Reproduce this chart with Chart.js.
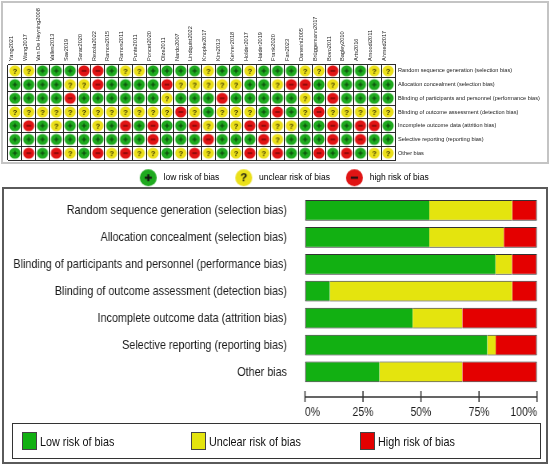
<!DOCTYPE html>
<html>
<head>
<meta charset="utf-8">
<script src="https://cdn.jsdelivr.net/npm/chart.js@4.4.1/dist/chart.umd.min.js"></script>
<style>
  html, body { margin: 0; padding: 0; background: #fff; }
  #page { position: relative; width: 550px; height: 466px; overflow: hidden; }
  .frame { position: absolute; box-sizing: border-box; }
  #topFrame { left: 1px; top: 1px; width: 548px; height: 163px; border: 2px solid #c4c4c4; }
  #bottomFrame { left: 2px; top: 187px; width: 546px; height: 277px; border: 2px solid #5a5a5a; }
  canvas { position: absolute; left: 0; }
  #summary { top: 0; }
  #graph { top: 188px; transform-origin: 0 0; }
  #graphLegend {
    position: absolute; left: 12px; top: 423px; width: 529px; height: 36px;
    box-sizing: border-box; border: 1.5px solid #333;
    font: 13.5px 'Liberation Sans', Arial, sans-serif; color: #111;
  }
  #graphLegend .item { position: absolute; top: 0; height: 100%; display: flex; align-items: center; white-space: nowrap; }
  #graphLegend .swatch { width: 15px; height: 18px; box-sizing: border-box; border: 1px solid #444; margin-right: 3px; }
  #graphLegend .txt { display: inline-block; transform: scaleX(0.8); transform-origin: 0 50%; }
</style>
</head>
<body>
<div id="page">
  <div id="topFrame" class="frame"></div>
  <div id="bottomFrame" class="frame"></div>
  <canvas id="summary" width="550" height="192"></canvas>
  <canvas id="graph" width="688" height="278"></canvas>
  <div id="graphLegend"></div>
</div>
<script>
const FONT = "'Liberation Sans', Arial, sans-serif";

// studies, left to right
const studies = ['Yang2021', 'Wang2017', 'Van De Heyning2008', 'Valles2013', 'Sav2019', 'Sarac2020',
  'Rezola2022', 'Ramos2015', 'Ramos2011', 'Punte2011', 'Poncet2020', 'Olze2011', 'Nardo2007',
  'Lindquist2022', 'Knopke2017', 'Kim2013', 'Kehrer2018', 'Holder2017', 'Haider2019', 'Frank2020',
  'Fan2023', 'Daneshi2005', 'Brüggemann2017', 'Bovo2011', 'Bagley2010', 'Arts2016', 'Amoodi2011', 'Ahmed2017'];

const domains = ['Random sequence generation (selection bias)',
  'Allocation concealment (selection bias)',
  'Blinding of participants and personnel (performance bias)',
  'Blinding of outcome assessment (detection bias)',
  'Incomplete outcome data (attrition bias)',
  'Selective reporting (reporting bias)',
  'Other bias'];

// one string per domain, one char per study:  + low, ? unclear, - high
const judgements = [
  '??+++--+??++++?++?+++??-++??',
  '++++??-++++-?????++?--+?++++',
  '++++-++++++?+++-+++++?+-++++',
  '????????????-?+???+-+?-?????',
  '+-+?++?+-+-++-?+?--??++-+--+',
  '++++++++++-+++-+++-?+++-+-++',
  '+-+-?+-?-??+?-?+?-?-++-+-+??'
];
const levelCodes = ['+', '?', '-'];

// risk of bias graph, percent of studies
const lowPct = [53.6, 53.6, 82.1, 10.7, 46.4, 78.6, 32.1];
const unclearPct = [35.7, 32.1, 7.1, 78.6, 21.4, 3.6, 35.7];
const highPct = [10.7, 14.3, 10.8, 10.7, 32.2, 17.8, 32.2];
const pctTicks = [0, 25, 50, 75, 100];

const summaryLabels = ['low risk of bias', 'unclear risk of bias', 'high risk of bias'];
const graphLabels = ['Low risk of bias', 'Unclear risk of bias', 'High risk of bias'];

const dotColors = ['#1faa1f', '#ebe01a', '#e01414'];
const dotInks = ['#0b3f0b', '#3a3300', '#4a0000'];
const barColors = ['#12b012', '#e4e40e', '#e40000'];

Chart.defaults.font.family = FONT;
Chart.defaults.color = '#1a1a1a';

// the graph canvas is drawn wide and squeezed back to 550px, giving the narrow lettering
const graphCanvas = document.getElementById('graph');
const SX = 550 / graphCanvas.width;
graphCanvas.style.transform = 'scaleX(' + SX + ')';

// little round judgement badges, used as point styles
function badge(fill, glyph, r, ink, lw) {
  const s = Math.ceil(2 * r + 2);
  const c = document.createElement('canvas');
  c.width = c.height = s;
  const g = c.getContext('2d');
  const m = s / 2;
  g.beginPath();
  g.arc(m, m, r, 0, Math.PI * 2);
  g.fillStyle = fill;
  g.fill();
  g.strokeStyle = ink;
  g.fillStyle = ink;
  g.lineWidth = lw;
  const k = r * 0.42;
  if (glyph === '?') {
    g.font = 'bold ' + (r * 1.35) + 'px Arial, sans-serif';
    g.textAlign = 'center';
    g.textBaseline = 'middle';
    g.fillText('?', m, m + r * 0.08);
  } else {
    g.beginPath();
    g.moveTo(m - k, m); g.lineTo(m + k, m);
    if (glyph === '+') { g.moveTo(m, m - k); g.lineTo(m, m + k); }
    g.stroke();
  }
  return c;
}
const gridBadges = levelCodes.map((code, k) => badge(dotColors[k], code, 5.6, dotInks[k], 1));
const legendBadges = levelCodes.map((code, k) => badge(dotColors[k], code, 8.5, '#111', 2));

const summaryDatasets = levelCodes.map((code, k) => ({
  label: summaryLabels[k],
  data: judgements.flatMap((row, r) => row.split('')
    .map((j, c) => j === code ? { x: studies[c], y: domains[r] } : null)
    .filter(Boolean)),
  pointStyle: gridBadges[k],
  pointRadius: 5,
  pointHoverRadius: 5,
  backgroundColor: dotColors[k]
}));

new Chart(document.getElementById('summary'), {
  type: 'scatter',
  data: { datasets: summaryDatasets },
  options: {
    responsive: false,
    animation: false,
    // the negative right padding only nudges the centred legend a little to the right
    layout: { padding: { left: 8, right: -8 } },
    plugins: {
      tooltip: { enabled: false },
      legend: {
        position: 'bottom',
        labels: {
          usePointStyle: true,
          pointStyleWidth: 22,
          padding: 13.5,
          font: { size: 8.5 },
          color: '#111',
          generateLabels: chart => chart.data.datasets.map((ds, i) => ({
            text: ds.label,
            pointStyle: legendBadges[i],
            fillStyle: dotColors[i],
            strokeStyle: dotColors[i],
            lineWidth: 0,
            hidden: false,
            datasetIndex: i
          }))
        }
      }
    },
    scales: {
      x: {
        type: 'category',
        labels: studies,
        position: 'top',
        offset: true,
        grid: { offset: true, color: '#2a2a2a', lineWidth: 1, drawTicks: false },
        border: { color: '#2a2a2a', width: 1 },
        ticks: { autoSkip: false, minRotation: 90, maxRotation: 90, padding: 3, labelOffset: 3, font: { size: 5.6 } },
        afterFit: s => { s.height = 64; }
      },
      y: {
        type: 'category',
        labels: domains,
        position: 'right',
        offset: true,
        grid: { offset: true, color: '#2a2a2a', lineWidth: 1, drawTicks: false },
        border: { color: '#2a2a2a', width: 1 },
        ticks: { autoSkip: false, padding: 3, font: { size: 5.6 } },
        afterFit: s => { s.width = 163; }
      }
    }
  }
});

// axis line with ticks crossing it, placed a little below the bars
const axisRule = {
  id: 'axisRule',
  afterDraw(chart) {
    const xs = chart.scales.x;
    const ctx = chart.ctx;
    const y0 = chart.chartArea.bottom + 11.6;
    ctx.save();
    ctx.strokeStyle = '#333';
    ctx.lineWidth = 1.5;
    ctx.beginPath();
    ctx.moveTo(xs.getPixelForValue(xs.min), y0);
    ctx.lineTo(xs.getPixelForValue(xs.max), y0);
    xs.ticks.forEach(t => {
      const px = xs.getPixelForValue(t.value);
      ctx.moveTo(px, y0 - 6);
      ctx.lineTo(px, y0 + 5);
    });
    ctx.stroke();
    ctx.restore();
  }
};

// boxed legend under the graph, three fixed slots
const htmlLegend = {
  id: 'htmlLegend',
  afterUpdate(chart) {
    const box = document.getElementById('graphLegend');
    box.innerHTML = '';
    chart.data.datasets.forEach((ds, i) => {
      const item = document.createElement('div');
      item.className = 'item';
      item.style.left = (8.5 + i * 169) + 'px';
      const sw = document.createElement('span');
      sw.className = 'swatch';
      sw.style.background = ds.backgroundColor;
      const tx = document.createElement('span');
      tx.className = 'txt';
      tx.textContent = ds.label;
      item.appendChild(sw);
      item.appendChild(tx);
      box.appendChild(item);
    });
  }
};

new Chart(graphCanvas, {
  type: 'bar',
  data: {
    labels: domains,
    datasets: [
      { label: graphLabels[0], data: lowPct, backgroundColor: barColors[0],
        borderWidth: { top: 1, bottom: 1, left: 1.3, right: 0 } },
      { label: graphLabels[1], data: unclearPct, backgroundColor: barColors[1],
        borderWidth: { top: 1, bottom: 1, left: 0, right: 0 } },
      { label: graphLabels[2], data: highPct, backgroundColor: barColors[2],
        borderWidth: { top: 1, bottom: 1, left: 0, right: 1.3 } }
    ]
  },
  options: {
    indexAxis: 'y',
    responsive: false,
    animation: false,
    layout: { padding: { top: 9, right: graphCanvas.width - 537 / SX } },
    datasets: { bar: { categoryPercentage: 1, barPercentage: 0.77, borderColor: '#333', borderSkipped: false } },
    plugins: { legend: { display: false }, tooltip: { enabled: false } },
    scales: {
      x: {
        stacked: true,
        min: 0,
        max: 100,
        grid: { display: false, drawTicks: true, tickLength: 19 },
        border: { display: false },
        afterBuildTicks: s => { s.ticks = pctTicks.map(v => ({ value: v })); },
        ticks: { callback: v => v + '%', align: 'inner', padding: 0, maxRotation: 0, autoSkip: false, font: { size: 13 } },
        afterFit: s => { s.height = 80.6; }
      },
      y: {
        stacked: true,
        grid: { display: false, drawTicks: true, tickLength: 18 / SX },
        border: { display: false },
        ticks: { padding: 0, autoSkip: false, font: { size: 13.5 } },
        afterFit: s => { s.width = 305 / SX; }
      }
    }
  },
  plugins: [axisRule, htmlLegend]
});
</script>
</body>
</html>
